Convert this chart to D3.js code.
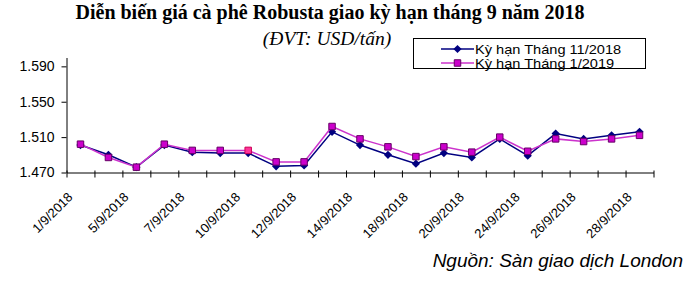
<!DOCTYPE html>
<html>
<head>
<meta charset="utf-8">
<script src="https://cdn.jsdelivr.net/npm/d3@7"></script>
<style>
  body { margin: 0; background: #fff; }
  svg { display: block; }
</style>
</head>
<body>
<svg id="chart" width="700" height="284"></svg>
<script>
// ngay giao dich thang 9/2018
var dates = ["1/9/2018", "4/9/2018", "5/9/2018", "6/9/2018", "7/9/2018", "8/9/2018",
    "10/9/2018", "11/9/2018", "12/9/2018", "13/9/2018", "14/9/2018", "17/9/2018",
    "18/9/2018", "19/9/2018", "20/9/2018", "21/9/2018", "24/9/2018", "25/9/2018",
    "26/9/2018", "27/9/2018", "28/9/2018"];

var nov2018 = [1501, 1490, 1476, 1501, 1493, 1492, 1492, 1477, 1478, 1516, 1501,
    1490, 1480, 1492, 1487, 1508, 1489, 1514, 1508, 1512, 1516];

var jan2019 = [1502, 1487, 1476, 1502, 1495, 1495, 1495, 1482, 1482, 1522, 1508,
    1499, 1488, 1499, 1493, 1510, 1494, 1508, 1505, 1508, 1512];

var yTicks = [1470, 1510, 1550, 1590];
var seriesNames = ["Kỳ hạn Tháng 11/2018", "Kỳ hạn Tháng 1/2019"];
var highlightDate = "10/9/2018";

( function () {
    var svg = d3.select('#chart');

    var xScale = d3.scaleBand()
        .domain(dates)
        .range([66.5, 653.5]);

    var yScale = d3.scaleLinear()
        .domain([1470, 1600])
        .range([172.5, 57.5]);

    var fmt = d3.formatLocale({decimal: ",", thousands: ".", grouping: [3], currency: ["", ""]}).format(",");

    // title
    svg.append("text")
        .attr("x", 330)
        .attr("y", 19)
        .attr("text-anchor", "middle")
        .style("font-family", "'Liberation Serif', serif")
        .style("font-weight", "bold")
        .style("font-size", "20px")
        .text("Diễn biến giá cà phê Robusta giao kỳ hạn tháng 9 năm 2018");

    svg.append("text")
        .attr("x", 327)
        .attr("y", 45)
        .attr("text-anchor", "middle")
        .style("font-family", "'Liberation Serif', serif")
        .style("font-style", "italic")
        .style("font-size", "19.5px")
        .text("(ĐVT: USD/tấn)");

    // y axis
    var yAxis = svg.append('g')
        .attr('transform', 'translate(66.5, 0)')
        .call(d3.axisLeft(yScale).tickValues(yTicks).tickFormat(fmt).tickSize(5).tickSizeOuter(0));
    yAxis.selectAll("text")
        .style("font-family", "'Liberation Sans', Arial, sans-serif")
        .style("font-size", "14px")
        .attr("x", -12)
        .attr("fill", "#000");
    yAxis.selectAll("line, path").attr("stroke", "#000");

    // x axis ticks between categories
    var tickScale = d3.scaleLinear().domain([0, dates.length]).range(xScale.range());
    var xAxis = svg.append('g')
        .attr('transform', 'translate(0,' + 172.5 + ')')
        .call(d3.axisBottom(tickScale).ticks(dates.length).tickFormat("").tickSize(5).tickSizeOuter(0));
    xAxis.selectAll("line").attr("y1", -2);
    xAxis.selectAll("line, path").attr("stroke", "#000");

    // x labels, every second date
    svg.append("g")
        .selectAll("text")
        .data(dates.filter(function (d, i) { return i % 2 === 0; }))
        .enter()
        .append("text")
        .attr("transform", function (d) {
            var cx = xScale(d) + xScale.bandwidth() / 2 - 7;
            return "translate(" + cx + ",198) rotate(-45)";
        })
        .attr("text-anchor", "end")
        .style("font-family", "'Liberation Sans', Arial, sans-serif")
        .style("font-size", "13px")
        .text(function (d) { return d; });

    var cxOf = function (d, i) { return xScale(dates[i]) + xScale.bandwidth() / 2; };

    var line = d3.line()
        .x(cxOf)
        .y(function (d) { return yScale(d); });

    // series 1 - navy diamonds
    svg.append("path")
        .datum(nov2018)
        .attr("d", line)
        .attr("fill", "none")
        .attr("stroke", "#000080")
        .attr("stroke-width", 1.5);

    svg.append("g")
        .selectAll("path")
        .data(nov2018)
        .enter()
        .append("path")
        .attr("d", d3.symbol().type(d3.symbolSquare).size(34))
        .attr("transform", function (d, i) {
            return "translate(" + cxOf(d, i) + "," + yScale(d) + ") rotate(45)";
        })
        .attr("fill", "#000080");

    // series 2 - magenta squares
    svg.append("path")
        .datum(jan2019)
        .attr("d", line)
        .attr("fill", "none")
        .attr("stroke", "#cc33cc")
        .attr("stroke-width", 1.5);

    svg.append("g")
        .selectAll("path")
        .data(jan2019)
        .enter()
        .append("path")
        .attr("d", d3.symbol().type(d3.symbolSquare).size(42))
        .attr("transform", function (d, i) {
            return "translate(" + cxOf(d, i) + "," + yScale(d) + ")";
        })
        .attr("fill", function (d, i) { return dates[i] === highlightDate ? "#ff3399" : "#cc00cc"; })
        .attr("stroke", function (d, i) { return dates[i] === highlightDate ? "#cc0055" : "#660066"; })
        .attr("stroke-width", 1);

    // legend
    var legend = svg.append("g");
    legend.append("rect")
        .attr("x", 413.5)
        .attr("y", 38.5)
        .attr("width", 232)
        .attr("height", 30)
        .attr("fill", "#fff")
        .attr("stroke", "#000");

    var rows = legend.selectAll("g.row")
        .data(seriesNames)
        .enter()
        .append("g")
        .attr("transform", function (d, i) { return "translate(0," + (49 + i * 14) + ")"; });

    rows.append("line")
        .attr("x1", 441).attr("x2", 474)
        .attr("stroke", function (d, i) { return i === 0 ? "#000080" : "#cc33cc"; })
        .attr("stroke-width", 1.5);

    rows.append("path")
        .attr("d", function (d, i) {
            return d3.symbol().type(d3.symbolSquare).size(i === 0 ? 34 : 42)();
        })
        .attr("transform", function (d, i) { return "translate(457.5,0)" + (i === 0 ? " rotate(45)" : ""); })
        .attr("fill", function (d, i) { return i === 0 ? "#000080" : "#cc00cc"; })
        .attr("stroke", function (d, i) { return i === 0 ? "none" : "#660066"; });

    rows.append("text")
        .attr("transform", "translate(475,5) scale(1.08,1)")
        .style("font-family", "'Liberation Sans', Arial, sans-serif")
        .style("font-size", "13.5px")
        .text(function (d) { return d; });

    // source
    svg.append("text")
        .attr("x", 683)
        .attr("y", 267)
        .attr("text-anchor", "end")
        .style("font-family", "'Liberation Sans', Arial, sans-serif")
        .style("font-style", "italic")
        .style("font-size", "19px")
        .text("Nguồn: Sàn giao dịch London");
})();
</script>
</body>
</html>
